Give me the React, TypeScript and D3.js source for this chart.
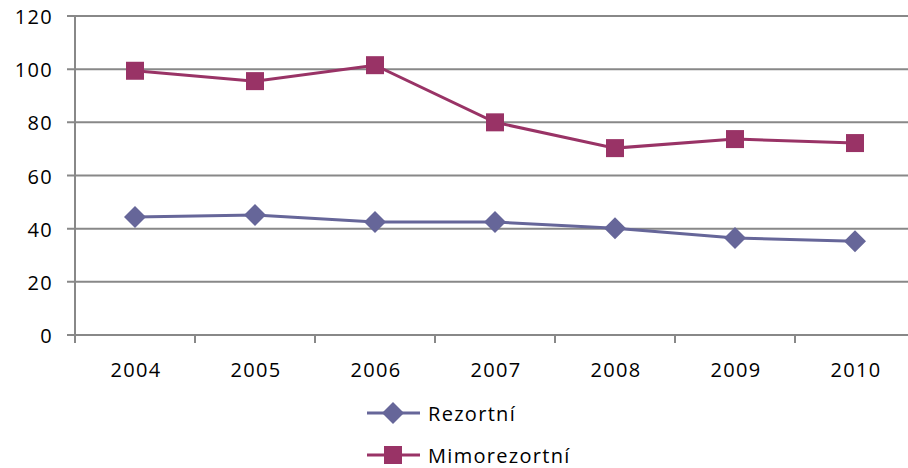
import React from 'react'
import * as d3 from 'd3'

const years = ['2004', '2005', '2006', '2007', '2008', '2009', '2010']
const rezortni = [44.4, 45.1, 42.5, 42.5, 40.2, 36.5, 35.3]
const mimorezortni = [99.4, 95.5, 101.5, 80, 70.3, 73.7, 72.2]
const yTicks = [0, 20, 40, 60, 80, 100, 120]

const series = [
  { name: 'Rezortní', values: rezortni, color: '#666699', marker: 'diamond' },
  { name: 'Mimorezortní', values: mimorezortni, color: '#993366', marker: 'square' }
]

const font = "'Open Sans', sans-serif"

const App = () => {
  const width = 908
  const height = 468
  const left = 75
  const x = d3.scaleBand().domain(years).range([left, left + 120 * years.length])
  const y = d3.scaleLinear().domain([0, 120]).range([335, 16])
  const cx = (yr: string) => (x(yr) as number) + x.bandwidth() / 2

  const marker = (type: string, px: number, py: number, color: string, key: string) =>
    type === 'square' ? (
      <rect key={key} x={px - 9} y={py - 9} width={18} height={18} fill={color} />
    ) : (
      <path key={key} d={`M${px},${py - 11}L${px + 11},${py}L${px},${py + 11}L${px - 11},${py}Z`} fill={color} />
    )

  const textStyle = { fontFamily: font, fontSize: 20, letterSpacing: 1.3 }

  return (
    <svg width={width} height={height} style={{ position: 'absolute', left: 0, top: 0, background: '#fff' }}>
      {/* grid */}
      {yTicks.map(t => (
        <g key={t}>
          <line x1={67} x2={width} y1={y(t)} y2={y(t)} stroke="#888" strokeWidth={2} />
          <text x={53} y={y(t) + 8} textAnchor="end" style={textStyle} fill="#000">{t}</text>
        </g>
      ))}
      <line x1={left} x2={left} y1={y(120)} y2={343} stroke="#888" strokeWidth={2} />
      {years.map((yr, i) => (
        <g key={yr}>
          <line x1={left + 120 * (i + 1)} x2={left + 120 * (i + 1)} y1={335} y2={343} stroke="#888" strokeWidth={2} />
          <text x={cx(yr) + 1} y={377} textAnchor="middle" style={textStyle} fill="#000">{yr}</text>
        </g>
      ))}
      {series.map(s => {
        const line = d3.line<number>().x((_, i) => cx(years[i])).y(d => y(d))
        return (
          <g key={s.name}>
            <path d={line(s.values) || ''} fill="none" stroke={s.color} strokeWidth={3} />
            {s.values.map((v, i) => marker(s.marker, cx(years[i]), y(v), s.color, s.name + i))}
          </g>
        )
      })}
      {/* legend */}
      {series.map((s, i) => {
        const ly = 413 + i * 42
        return (
          <g key={'lg' + s.name}>
            <line x1={367} x2={420} y1={ly} y2={ly} stroke={s.color} strokeWidth={3} />
            {marker(s.marker, 393, ly, s.color, 'm' + i)}
            <text x={428} y={ly + 8} style={textStyle} fill="#000">{s.name}</text>
          </g>
        )
      })}
    </svg>
  )
}

export default App
